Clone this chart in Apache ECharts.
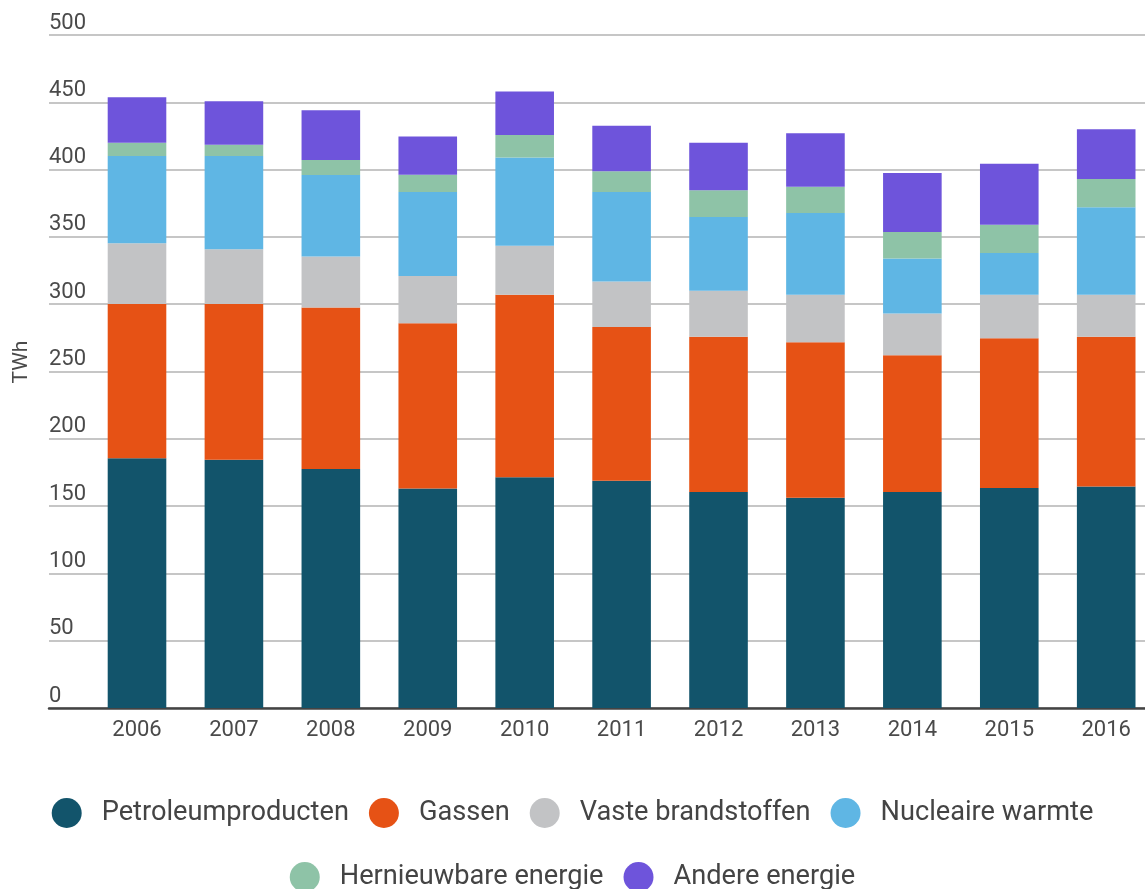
<!DOCTYPE html>
<html>
<head>
<meta charset="utf-8">
<script src="https://cdn.jsdelivr.net/npm/echarts@6/dist/echarts.min.js"></script>
<style>
	html, body { margin: 0; padding: 0; background: #fff; }
	#chart { width: 1145px; height: 889px; }
</style>
</head>
<body>
<div id="chart"></div>
<script>
// jaren en waarden (TWh)
const years = ['2006', '2007', '2008', '2009', '2010', '2011', '2012', '2013', '2014', '2015', '2016']
const petroleum = [185.6, 184.4, 177.5, 163.1, 171.5, 168.8, 160.4, 156.2, 160.4, 163.4, 164.6]
const gassen = [114.6, 115.8, 120.0, 122.8, 135.6, 114.3, 115.5, 115.6, 101.7, 111.3, 111.3]
const vaste = [45.1, 40.6, 37.9, 35.1, 36.4, 33.7, 34.0, 35.3, 31.0, 32.4, 31.2]
const nucleair = [64.8, 69.3, 60.6, 62.4, 65.4, 66.6, 54.9, 60.7, 40.9, 31.0, 64.9]
const hernieuwbaar = [9.9, 8.4, 11.2, 12.8, 16.8, 15.3, 19.8, 19.5, 19.6, 21.0, 21.0]
const andere = [33.7, 32.2, 36.9, 28.3, 32.4, 33.9, 35.4, 39.7, 43.8, 45.3, 36.9]

const seriesDefs = [
	{ name: 'Petroleumproducten', data: petroleum, color: '#12546b' },
	{ name: 'Gassen', data: gassen, color: '#e65215' },
	{ name: 'Vaste brandstoffen', data: vaste, color: '#c2c3c5' },
	{ name: 'Nucleaire warmte', data: nucleair, color: '#5fb6e4' },
	{ name: 'Hernieuwbare energie', data: hernieuwbaar, color: '#8ec3a7' },
	{ name: 'Andere energie', data: andere, color: '#6e54db' }
]

const FONT = 'Roboto'
const chart = echarts.init(document.getElementById('chart'))

const legendBase = {
	left: 'center',
	icon: 'circle',
	itemWidth: 30,
	itemHeight: 30,
	itemGap: 20,
	selectedMode: false,
	textStyle: {
		fontFamily: FONT,
		fontSize: 27.2,
		color: '#444',
		padding: [0, 0, 0, 15]
	}
}

const options = {
	animation: false,
	backgroundColor: '#fff',
	textStyle: { fontFamily: FONT },
	legend: [
		Object.assign({}, legendBase, { top: 793, data: seriesDefs.slice(0, 4).map(s => s.name) }),
		Object.assign({}, legendBase, { top: 857, data: seriesDefs.slice(4).map(s => s.name) })
	],
	graphic: [
		{
			type: 'text',
			x: 22,
			y: 362,
			rotation: Math.PI / 2,
			style: {
				text: 'TWh',
				fontFamily: FONT,
				fontSize: 21,
				fill: '#4a4a4a',
				textAlign: 'center',
				textVerticalAlign: 'middle'
			}
		}
	],
	grid: [
		// bars: first and last category centres on the grid edges
		{ left: 137, right: 38.8, top: 35, bottom: 181 },
		// gridlines + labels
		{ left: 49, right: 0, top: 35, bottom: 181 }
	],
	xAxis: [
		{
			type: 'category',
			gridIndex: 0,
			data: years,
			boundaryGap: false,
			axisLine: { show: false },
			axisTick: { show: false },
			splitLine: { show: false },
			axisLabel: {
				fontFamily: FONT,
				fontSize: 22,
				color: '#4a4a4a',
				margin: 11
			}
		},
		{
			type: 'value',
			gridIndex: 1,
			min: 0,
			max: 1,
			axisLine: { show: true, lineStyle: { color: '#444', width: 2.5 } },
			axisTick: { show: false },
			axisLabel: { show: false },
			splitLine: { show: false }
		}
	],
	yAxis: [
		{
			type: 'value',
			gridIndex: 0,
			min: 0,
			max: 500,
			interval: 50,
			show: false,
			splitLine: { show: false }
		},
		{
			type: 'value',
			gridIndex: 1,
			min: 0,
			max: 500,
			interval: 50,
			axisLine: { show: false },
			axisTick: { show: false },
			axisLabel: {
				inside: true,
				margin: 0,
				align: 'left',
				verticalAlign: 'bottom',
				fontFamily: FONT,
				fontSize: 22,
				color: '#4a4a4a',
				padding: [0, 0, 1, 0]
			},
			splitLine: { show: true, lineStyle: { color: '#b3b3b3', width: 1.5 } }
		}
	],
	series: seriesDefs.map(s => ({
		name: s.name,
		type: 'bar',
		stack: 'total',
		xAxisIndex: 0,
		yAxisIndex: 0,
		barWidth: 58.6,
		clip: false,
		itemStyle: { color: s.color },
		data: s.data
	}))
}

chart.setOption(options)
</script>
</body>
</html>
